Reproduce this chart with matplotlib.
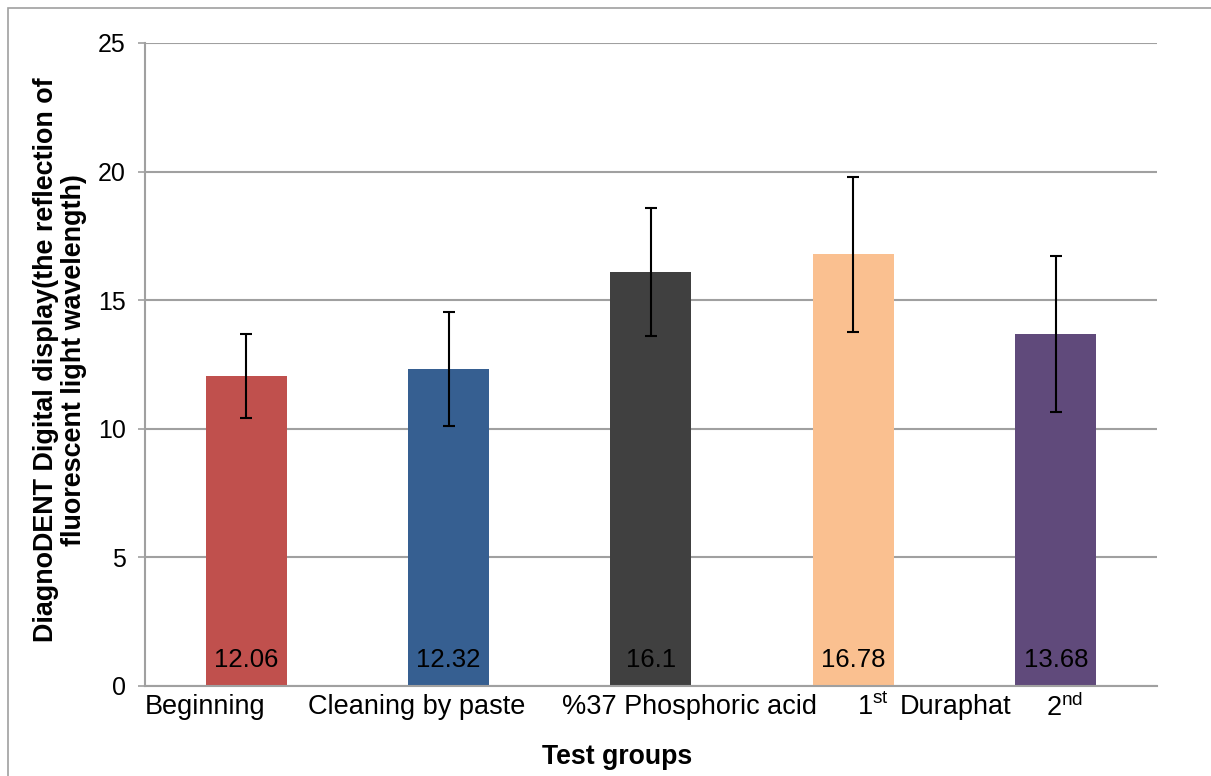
import matplotlib
matplotlib.use("Agg")
import matplotlib.pyplot as plt
from matplotlib.patches import Rectangle

plt.rcParams["font.family"] = ["Liberation Sans", "DejaVu Sans"]
plt.rcParams["mathtext.fontset"] = "custom"
plt.rcParams["mathtext.rm"] = "Liberation Sans"
plt.rcParams["mathtext.it"] = "Liberation Sans"

groups = ["Beginning", "Cleaning by paste", "%37 Phosphoric acid", "1st Duraphat", "2nd Duraphat"]
means = [12.06, 12.32, 16.1, 16.78, 13.68]
errors = [1.63, 2.22, 2.5, 3.02, 3.03]
value_labels = ["12.06", "12.32", "16.1", "16.78", "13.68"]
bar_colors = ["#C0504D", "#365F91", "#404040", "#FAC090", "#604A7B"]

# category texts as drawn in the original (shifted, wrapped oddly)
axis_texts = ["Beginning", "Cleaning by paste", "%37 Phosphoric acid",
              r"1$^{\mathrm{st}}$", "Duraphat", r"2$^{\mathrm{nd}}$"]
axis_text_x = [-0.5, 0.305, 1.56, 3.02, 3.23, 3.95]

fig = plt.figure(figsize=(12.11, 7.76), dpi=100)
ax = fig.add_axes([0.1197, 0.116, 0.9554 - 0.1197, 0.9446 - 0.116])

# outer chart border (right and bottom edges fall outside the image)
fig.patches.append(Rectangle((8 / 1211, -0.1), 1.2, 1 - 8 / 776 + 0.1,
                             transform=fig.transFigure, fill=False,
                             edgecolor="#A0A0A0", linewidth=1.2))

x = range(len(groups))
ax.bar(x, means, width=0.4, color=bar_colors, zorder=2)
ax.errorbar(x, means, yerr=errors, fmt="none", ecolor="black",
            elinewidth=1.5, capsize=4.5, capthick=1.5, zorder=3)

for i, lab in enumerate(value_labels):
    ax.annotate(lab, (i, 0), xytext=(0, 19), textcoords="offset points",
                ha="center", va="center", fontsize=18.5, color="black", zorder=4)

ax.set_xlim(-0.5, len(groups) - 0.5)
ax.set_ylim(0, 25)
ax.set_yticks([0, 5, 10, 15, 20, 25])
ax.set_xticks([])
ax.yaxis.grid(True, color="#A0A0A0", linewidth=1.5, zorder=0)
ax.set_axisbelow(True)

for s in ["top", "right"]:
    ax.spines[s].set_visible(False)
for s in ["left", "bottom"]:
    ax.spines[s].set_color("#A0A0A0")
    ax.spines[s].set_linewidth(1.5)

ax.tick_params(axis="y", length=5, width=1.2, color="#A0A0A0", pad=9, labelsize=18)

for txt, xp in zip(axis_texts, axis_text_x):
    ax.text(xp, -0.3, txt, ha="left", va="top", fontsize=19.5)

fig.text(60 / 1211, 1 - 360 / 776,
         "DiagnoDENT Digital display(the reflection of\nfluorescent light wavelength)",
         rotation=90, ha="center", va="center", fontsize=19.4,
         fontweight="bold", linespacing=1.1)
fig.text(617 / 1211, 1 - 757 / 776, "Test groups", ha="center", va="center",
         fontsize=19.2, fontweight="bold")

fig.savefig("out.png", dpi=100)
